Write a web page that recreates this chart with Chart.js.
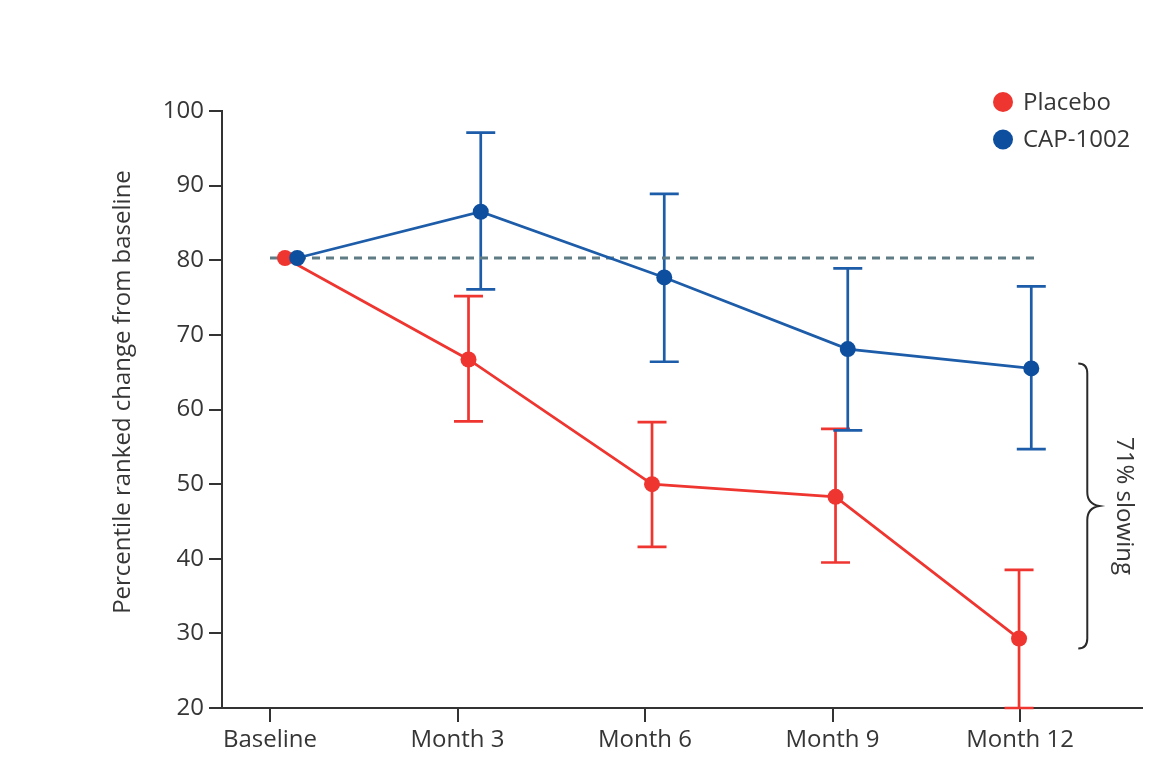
<!DOCTYPE html>
<html>
<head>
<meta charset="utf-8">
<script src="https://cdn.jsdelivr.net/npm/chart.js@4.4.1/dist/chart.umd.min.js"></script>
<style>
  html, body { margin: 0; padding: 0; background: #fff; }
</style>
</head>
<body>
<canvas id="chart" width="1170" height="770"></canvas>
<script>
// values
const visits = ['Baseline', 'Month 3', 'Month 6', 'Month 9', 'Month 12'];
const visitMonths = [0, 3, 6, 9, 12];

const placeboMean = [80.3, 66.7, 50.0, 48.3, 29.3];
const placeboLow = [80.3, 58.4, 41.6, 39.5, 20.0];
const placeboHigh = [80.3, 75.2, 58.3, 57.4, 38.5];

const capMean = [80.3, 86.5, 77.7, 68.1, 65.5];
const capLow = [80.3, 76.1, 66.4, 57.2, 54.7];
const capHigh = [80.3, 97.1, 88.9, 78.9, 76.5];

const yMin = 20;
const yMax = 100;
const yStep = 10;

const baselineRef = 80.3;
const refLineEnd = 12.27;
const yTitle = 'Percentile ranked change from baseline';
const slowingLabel = '71% slowing';

const RED = '#ef3530';
const BLUE = '#1d5ca8';
const BLUE_DOT = '#0d4e9e';
const INK = '#363636';
const FONT = '"Open Sans", "Noto Sans", sans-serif';

Chart.defaults.font.family = FONT;
Chart.defaults.font.size = 24;
Chart.defaults.color = INK;

const capDodge = 0.2;

const toPoints = (means, dodge) =>
  means.map((y, i) => ({x: visitMonths[i] + dodge, y}));

const series = [
  {label: 'Placebo', mean: placeboMean, low: placeboLow, high: placeboHigh, color: RED, dot: RED, dodge: 0},
  {label: 'CAP-1002', mean: capMean, low: capLow, high: capHigh, color: BLUE, dot: BLUE_DOT, dodge: capDodge},
];

const errorBars = {
  id: 'errorBars',
  beforeDatasetsDraw(chart) {
    const {ctx, scales: {xp, y}} = chart;
    const cap = 14.5;
    ctx.save();
    ctx.lineWidth = 2.7;
    series.forEach((s) => {
      ctx.strokeStyle = s.color;
      s.mean.forEach((m, i) => {
        if (s.low[i] === s.high[i]) return;
        const px = xp.getPixelForValue(visitMonths[i] + s.dodge);
        const top = y.getPixelForValue(s.high[i]);
        const bot = y.getPixelForValue(s.low[i]);
        ctx.beginPath();
        ctx.moveTo(px, top);
        ctx.lineTo(px, bot);
        ctx.moveTo(px - cap, top);
        ctx.lineTo(px + cap, top);
        ctx.moveTo(px - cap, bot);
        ctx.lineTo(px + cap, bot);
        ctx.stroke();
      });
    });
    ctx.restore();
  },
};

const extras = {
  id: 'extras',
  afterDraw(chart) {
    const {ctx, scales: {xp, y}} = chart;
    ctx.save();
    ctx.font = '24px ' + FONT;
    ctx.fillStyle = INK;

    // y axis title, sits a bit above the plot centre in the original
    ctx.save();
    ctx.translate(123, 392);
    ctx.rotate(-Math.PI / 2);
    ctx.textAlign = 'center';
    ctx.textBaseline = 'middle';
    ctx.fillText(yTitle, 0, 0);
    ctx.restore();

    // legend
    ctx.textBaseline = 'middle';
    ctx.textAlign = 'left';
    series.forEach((s, i) => {
      const ly = 102 + i * 37.5;
      ctx.fillStyle = s.dot;
      ctx.beginPath();
      ctx.arc(1003, ly, 10, 0, Math.PI * 2);
      ctx.fill();
      ctx.fillStyle = INK;
      ctx.fillText(s.label, 1023, ly + 1);
    });

    // brace between the month 12 means
    const last = visitMonths.length - 1;
    const top = y.getPixelForValue(capMean[last]) - 5;
    const bot = y.getPixelForValue(placeboMean[last]) + 10;
    const bx = xp.getPixelForValue(visitMonths[last] + capDodge) + 56;
    const mid = (top + bot) / 2;
    ctx.strokeStyle = '#2a2a2a';
    ctx.lineWidth = 2;
    ctx.beginPath();
    ctx.moveTo(bx - 9, top);
    ctx.quadraticCurveTo(bx, top, bx, top + 10);
    ctx.lineTo(bx, mid - 14);
    ctx.quadraticCurveTo(bx, mid - 2, bx + 12, mid);
    ctx.quadraticCurveTo(bx, mid + 2, bx, mid + 14);
    ctx.lineTo(bx, bot - 10);
    ctx.quadraticCurveTo(bx, bot, bx - 9, bot);
    ctx.stroke();

    ctx.translate(bx + 37, mid);
    ctx.rotate(Math.PI / 2);
    ctx.textAlign = 'center';
    ctx.fillStyle = INK;
    ctx.fillText(slowingLabel, 0, 0);
    ctx.restore();
  },
};

new Chart(document.getElementById('chart'), {
  type: 'line',
  data: {
    datasets: [
      {
        label: series[1].label,
        data: toPoints(capMean, capDodge),
        xAxisID: 'xp',
        borderColor: BLUE,
        borderWidth: 2.7,
        pointBackgroundColor: BLUE_DOT,
        pointBorderWidth: 0,
        pointRadius: 8,
      },
      {
        label: series[0].label,
        data: toPoints(placeboMean, 0),
        xAxisID: 'xp',
        borderColor: RED,
        borderWidth: 2.7,
        pointBackgroundColor: RED,
        pointBorderWidth: 0,
        pointRadius: 8,
      },
      {
        label: 'baseline',
        data: [{x: visitMonths[0], y: baselineRef}, {x: refLineEnd, y: baselineRef}],
        xAxisID: 'x',
        borderColor: '#5f7c84',
        borderWidth: 3,
        borderDash: [8, 6],
        pointRadius: 0,
      },
    ],
  },
  options: {
    responsive: false,
    animation: false,
    layout: {padding: {left: 95, top: 111, right: 28, bottom: 0}},
    plugins: {
      legend: {display: false},
      tooltip: {enabled: false},
    },
    scales: {
      x: {
        type: 'linear',
        min: -0.768,
        max: 13.952,
        afterFit: (scale) => {
          scale.height = 62;
        },
        afterBuildTicks: (scale) => {
          scale.ticks = visitMonths.map((v) => ({value: v}));
        },
        ticks: {
          callback: (v) => visits[visitMonths.indexOf(v)],
          padding: 4,
          maxRotation: 0,
          autoSkip: false,
        },
        grid: {
          drawOnChartArea: false,
          drawTicks: true,
          tickLength: 14,
          color: '#333',
          lineWidth: 2,
        },
        border: {color: '#333', width: 2},
      },
      xp: {
        type: 'linear',
        display: false,
        min: -1.03,
        max: 14.01,
      },
      y: {
        min: yMin,
        max: yMax,
        afterFit: (scale) => {
          scale.width = 127;
        },
        ticks: {stepSize: yStep, padding: 5},
        grid: {
          drawOnChartArea: false,
          drawTicks: true,
          tickLength: 13,
          color: '#333',
          lineWidth: 2,
        },
        border: {color: '#333', width: 2},
      },
    },
  },
  plugins: [errorBars, extras],
});
</script>
</body>
</html>
